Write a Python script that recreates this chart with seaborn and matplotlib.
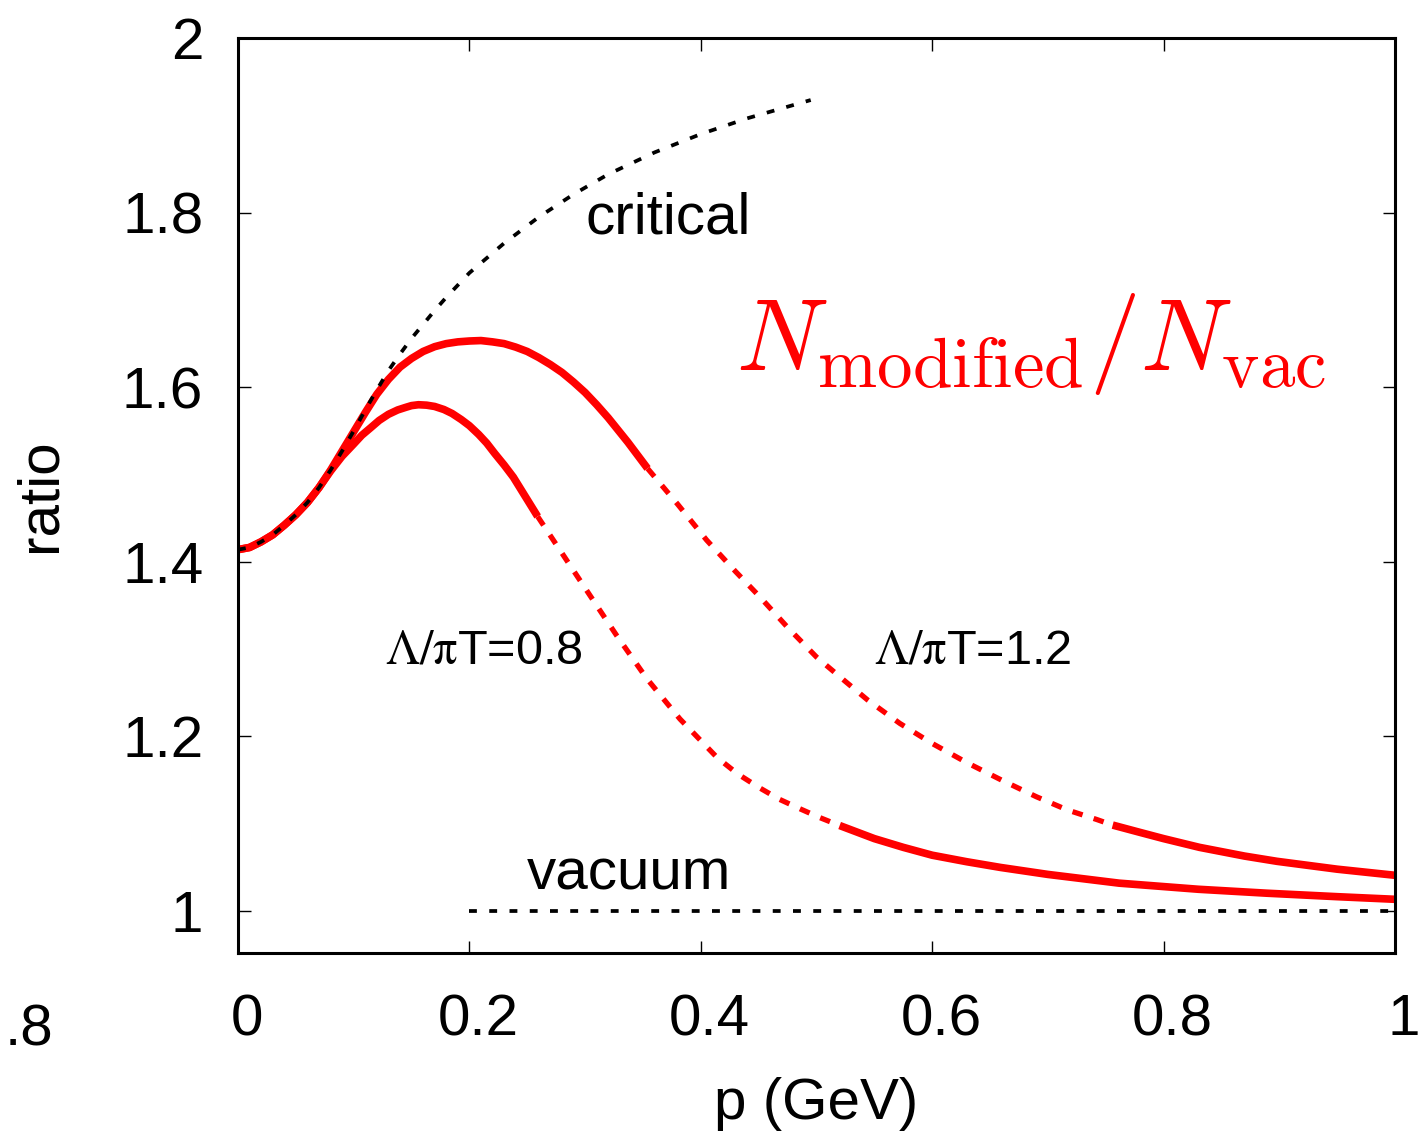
import numpy as np
import pandas as pd
import matplotlib
matplotlib.use("Agg")
import matplotlib.pyplot as plt
import matplotlib.transforms as mtransforms
from matplotlib.ticker import FormatStrFormatter
import seaborn as sns

# critical curve (black dotted)
crit_p = [0, 0.01, 0.02, 0.03, 0.04, 0.05, 0.06, 0.07, 0.08, 0.09, 0.10, 0.11, 0.12,
          0.13, 0.14, 0.15, 0.16, 0.17, 0.18, 0.20, 0.23, 0.26, 0.29, 0.32, 0.36,
          0.40, 0.44, 0.495]
crit_r = [1.414, 1.4165, 1.423, 1.431, 1.442, 1.454, 1.468, 1.485, 1.505, 1.527, 1.550,
          1.574, 1.597, 1.619, 1.638, 1.656, 1.672, 1.688, 1.703, 1.731, 1.765, 1.795,
          1.821, 1.844, 1.869, 1.890, 1.908, 1.929]

# Lambda/piT = 1.2 : solid / dashed / solid pieces
l12_a_p = [0, 0.01, 0.02, 0.03, 0.04, 0.05, 0.06, 0.07, 0.08, 0.09, 0.10, 0.11, 0.12,
           0.13, 0.14, 0.15, 0.16, 0.17, 0.18, 0.19, 0.20, 0.21, 0.22, 0.23, 0.24,
           0.25, 0.26, 0.27, 0.28, 0.29, 0.30, 0.31, 0.32, 0.337, 0.354]
l12_a_r = [1.414, 1.4165, 1.423, 1.431, 1.442, 1.454, 1.468, 1.485, 1.505, 1.527, 1.549,
           1.571, 1.592, 1.609, 1.623, 1.633, 1.641, 1.6465, 1.650, 1.652, 1.653, 1.6535,
           1.652, 1.650, 1.646, 1.641, 1.634, 1.626, 1.617, 1.606, 1.594, 1.580, 1.565,
           1.537, 1.507]
l12_b_p = [0.354, 0.38, 0.405, 0.43, 0.451, 0.475, 0.50, 0.525, 0.544, 0.572,
           0.60, 0.63, 0.66, 0.69, 0.7165, 0.742, 0.756]
l12_b_r = [1.507, 1.466, 1.425, 1.389, 1.360, 1.325, 1.291, 1.263, 1.242, 1.215,
           1.192, 1.170, 1.150, 1.131, 1.116, 1.105, 1.0985]
l12_c_p = [0.756, 0.78, 0.80, 0.831, 0.87, 0.898, 0.95, 1.0]
l12_c_r = [1.0985, 1.090, 1.083, 1.073, 1.063, 1.057, 1.048, 1.041]

# Lambda/piT = 0.8
l08_a_p = [0, 0.01, 0.02, 0.03, 0.04, 0.05, 0.06, 0.07, 0.08, 0.09, 0.10, 0.107, 0.115,
           0.122, 0.13, 0.138, 0.145, 0.15, 0.156, 0.163, 0.17, 0.178, 0.185, 0.193,
           0.20, 0.208, 0.215, 0.222, 0.23, 0.238, 0.245, 0.252, 0.259]
l08_a_r = [1.414, 1.4165, 1.423, 1.431, 1.442, 1.454, 1.468, 1.485, 1.504, 1.521, 1.535,
           1.545, 1.554, 1.562, 1.569, 1.574, 1.577, 1.579, 1.580, 1.5795, 1.578, 1.5745,
           1.570, 1.563, 1.556, 1.546, 1.536, 1.524, 1.511, 1.497, 1.482, 1.467, 1.452]
l08_b_p = [0.259, 0.28, 0.304, 0.3276, 0.3535, 0.382, 0.414, 0.432, 0.451, 0.468,
           0.486, 0.503, 0.520]
l08_b_r = [1.452, 1.410, 1.362, 1.315, 1.266, 1.220, 1.176, 1.157, 1.141, 1.128,
           1.117, 1.107, 1.098]
l08_c_p = [0.520, 0.55, 0.575, 0.60, 0.63, 0.659, 0.70, 0.7615, 0.83, 0.889, 0.95, 1.0]
l08_c_r = [1.098, 1.083, 1.073, 1.064, 1.0565, 1.050, 1.042, 1.032, 1.025, 1.0205,
           1.0165, 1.0135]

# vacuum
vac_p = [0.2, 1.0]
vac_r = [1.0, 1.0]

sns.set_style("ticks")
plt.rcParams['font.family'] = ['Liberation Sans', 'DejaVu Sans']
plt.rcParams['text.color'] = 'black'
plt.rcParams['axes.labelcolor'] = 'black'

fig = plt.figure(figsize=(14.2, 11.36), dpi=100)
ax = fig.add_axes([0.1676, 0.1611, 0.8148, 0.8054])

red = '#ff0000'
solid = dict(color=red, lw=5.5, solid_capstyle='butt', solid_joinstyle='round', errorbar=None)
dashed = dict(color=red, lw=3.8, linestyle=(0, (2, 2.2)), errorbar=None)
dotted = dict(color='black', lw=2.7, linestyle=(0, (2.1, 3.3)), errorbar=None)

for p, r in [(l12_a_p, l12_a_r), (l12_c_p, l12_c_r), (l08_a_p, l08_a_r), (l08_c_p, l08_c_r)]:
    sns.lineplot(x=p, y=r, ax=ax, **solid)
for p, r in [(l12_b_p, l12_b_r), (l08_b_p, l08_b_r)]:
    sns.lineplot(x=p, y=r, ax=ax, **dashed)
sns.lineplot(x=crit_p, y=crit_r, ax=ax, zorder=5, **dotted)
sns.lineplot(x=vac_p, y=vac_r, ax=ax, **dotted)

ax.set_xlim(0, 1)
ax.set_ylim(0.952, 2.0)
ax.set_xticks([0, 0.2, 0.4, 0.6, 0.8, 1.0])
ax.set_yticks([1, 1.2, 1.4, 1.6, 1.8, 2.0])
ax.xaxis.set_major_formatter(FormatStrFormatter('%g'))
ax.yaxis.set_major_formatter(FormatStrFormatter('%g'))
ax.tick_params(direction='in', length=9, width=1, top=True, right=True,
               labelsize=42, colors='black')
ax.tick_params(axis='x', pad=29)
ax.tick_params(axis='y', pad=25)
shift = mtransforms.ScaledTranslation(9 / 100, 0, fig.dpi_scale_trans)
for lab in ax.get_xticklabels():
    lab.set_transform(lab.get_transform() + shift)
for s in ax.spines.values():
    s.set_linewidth(2.2)
    s.set_color('black')

ax.set_xlabel('p (GeV)', fontsize=42)
ax.set_ylabel('ratio', fontsize=42)
ax.xaxis.set_label_coords(0.5, -0.136)
ax.yaxis.set_label_coords(-0.147, 0.5)

ax.text(0.3, 1.793, 'critical', fontsize=42, ha='left', va='center')
ax.text(0.25, 1.042, 'vacuum', fontsize=42, ha='left', va='center')
ax.text(0.127, 1.298, r'$\mathrm{\Lambda}/\mathrm{\pi}$T=0.8', fontsize=35,
        ha='left', va='center', math_fontfamily='stix')
ax.text(0.55, 1.298, r'$\mathrm{\Lambda}/\mathrm{\pi}$T=1.2', fontsize=35,
        ha='left', va='center', math_fontfamily='stix')
ax.text(0.43, 1.65, r'$N_{\mathrm{modified}}/N_{\mathrm{vac}}$', fontsize=73,
        color=red, ha='left', va='center', math_fontfamily='cm')

fig.text(0.003, 0.0933, '.8', fontsize=42, ha='left', va='center')

fig.savefig('out.png', dpi=100)
